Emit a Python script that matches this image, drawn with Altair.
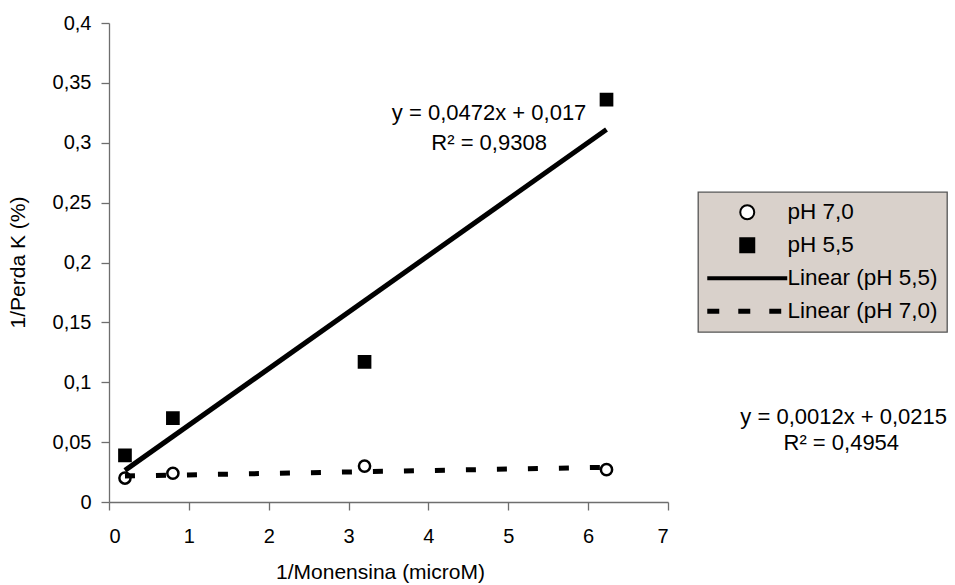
import altair as alt
import pandas as pd

# ---- data ----
x_vals = [0.2, 0.8, 3.2, 6.23]
ph70_vals = [0.020, 0.024, 0.030, 0.027]
ph55_vals = [0.039, 0.070, 0.117, 0.336]

trend_x = [0.2, 6.23]
trend55_y = [0.0264, 0.311]
trend70_y = [0.0217, 0.029]

legend_labels = ["pH 7,0", "pH 5,5", "Linear (pH 5,5)", "Linear (pH 7,0)"]

annot_text = ["y = 0,0472x + 0,017", "R² = 0,9308", "y = 0,0012x + 0,0215", "R² = 0,4954"]
annot_x = [4.76, 4.76, 9.2, 9.17]
annot_y = [0.325, 0.300, 0.071, 0.049]

x_ticks = [0, 1, 2, 3, 4, 5, 6, 7]
y_ticks = [0, 0.05, 0.1, 0.15, 0.2, 0.25, 0.3, 0.35, 0.4]

FONT = "Liberation Sans"

pts = pd.DataFrame({
    "x": x_vals + x_vals,
    "y": ph70_vals + ph55_vals,
    "s": [legend_labels[0]] * len(x_vals) + [legend_labels[1]] * len(x_vals),
})
tr55 = pd.DataFrame({"x": trend_x, "y": trend55_y})
tr70 = pd.DataFrame({"x": trend_x, "y": trend70_y})
ann = pd.DataFrame({"x": annot_x, "y": annot_y, "t": annot_text})

xs = alt.Scale(domain=[0, 7], nice=False, zero=False)
ys = alt.Scale(domain=[0, 0.4], nice=False)

x_axis = alt.Axis(
    values=x_ticks, title="1/Monensina (microM)", grid=False,
    labelExpr="toString(datum.value)",
    tickSize=8, labelPadding=16, labelFontSize=20, titleFontSize=21,
    titleX=271, titleY=70, titleBaseline="middle", titleFontWeight="normal",
)
y_axis = alt.Axis(
    values=y_ticks, title="1/Perda K (%)", grid=False,
    labelExpr="replace(toString(datum.value), '.', ',')",
    tickSize=8, labelPadding=10, labelFontSize=20, titleFontSize=21,
    titleX=-91, titleY=239, titleAngle=-90, titleAlign="center",
    titleBaseline="middle", titleFontWeight="normal",
)

line_path = "M-5.57,-0.14H5.57V0.14H-5.57Z"
dash_path = ("M-5.57,-0.2H-4.14V0.2H-5.57Z"
             "M-1.14,-0.2H0.29V0.2H-1.14Z"
             "M3.29,-0.2H4.71V0.2H3.29Z")

points = alt.Chart(pts).mark_point(
    stroke="black", strokeWidth=2.5, opacity=1, fillOpacity=1, size=125
).encode(
    x=alt.X("x:Q", scale=xs, axis=x_axis),
    y=alt.Y("y:Q", scale=ys, axis=y_axis),
    shape=alt.Shape(
        "s:N",
        scale=alt.Scale(domain=legend_labels,
                        range=["circle", "square", line_path, dash_path]),
        legend=alt.Legend(title=None),
    ),
    fill=alt.Fill(
        "s:N",
        scale=alt.Scale(domain=legend_labels,
                        range=["white", "black", "black", "black"]),
        legend=alt.Legend(title=None),
    ),
)

line55 = alt.Chart(tr55).mark_line(color="black", strokeWidth=5).encode(
    x=alt.X("x:Q", scale=xs), y=alt.Y("y:Q", scale=ys)
)
line70 = alt.Chart(tr70).mark_line(
    color="black", strokeWidth=5, strokeDash=[10, 21], strokeCap="butt"
).encode(x=alt.X("x:Q", scale=xs), y=alt.Y("y:Q", scale=ys))

texts = alt.Chart(ann).mark_text(
    font=FONT, fontSize=22, color="black", align="center", baseline="middle", clip=False
).encode(x=alt.X("x:Q", scale=xs), y=alt.Y("y:Q", scale=ys), text="t:N")

chart = alt.layer(points, line55, line70, texts).properties(
    width=559, height=479,
    padding={"left": 109, "top": 23, "right": 287, "bottom": 83},
    autosize="none",
).configure(font=FONT).configure_view(stroke=None).configure_axis(
    domainColor="#6e6e6e", tickColor="#6e6e6e", labelColor="black",
    titleColor="black", labelFont=FONT, titleFont=FONT, domainWidth=1.3, tickWidth=1.3,
).configure_legend(
    orient="none", legendX=589, legendY=169,
    fillColor="#d9d1cb", strokeColor="#555555", strokeWidth=1.3,
    padding=9, rowPadding=10, symbolSize=196, symbolOffset=29, labelOffset=29,
    symbolStrokeColor="black", symbolStrokeWidth=2, symbolFillColor="black",
    labelFont=FONT, labelFontSize=22.5, labelColor="black", labelLimit=400,
    cornerRadius=0,
)

chart.save("out.html", embed_options={"renderer": "svg", "actions": False})
